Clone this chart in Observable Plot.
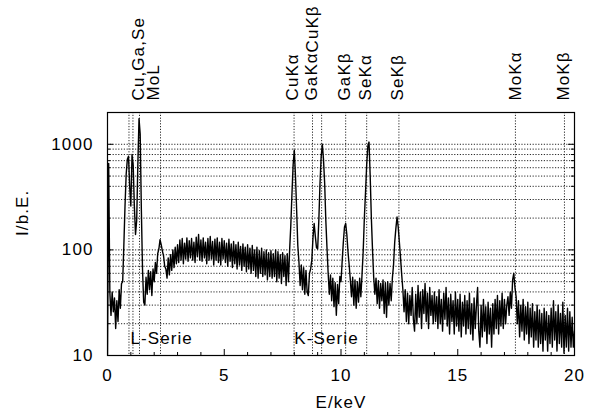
<!DOCTYPE html>
<html>
<head>
<meta charset="utf-8">
<script src="https://cdn.jsdelivr.net/npm/d3@7"></script>
<script src="https://cdn.jsdelivr.net/npm/@observablehq/plot@0.6"></script>
<style>
  html, body { margin: 0; padding: 0; background: #fff; }
  #chart { width: 596px; height: 414px; }
</style>
</head>
<body>
<div id="chart"></div>
<script>
// ---- data ----
const channelKeV = 0.05; // channel width
const counts = [
  10, 660, 40, 24, 40, 26, 35, 18, 33, 21, 42, 28, 48, 50, 110, 260, 520, 720, 770, 400,      // 0
  260, 800, 640, 260, 140, 190, 650, 1750, 1250, 240, 65, 32, 30, 55, 38, 64, 42, 62, 37, 66, // 1
  50, 76, 60, 92, 102, 125, 112, 98, 88, 70, 66, 54, 84, 58, 90, 64, 100, 68, 106, 74,       // 2
  112, 76, 124, 80, 128, 74, 116, 82, 130, 78, 122, 84, 128, 80, 118, 76, 132, 86, 140, 80,  // 3
  124, 78, 130, 84, 118, 74, 128, 80, 134, 82, 120, 72, 126, 80, 130, 76, 118, 72, 128, 82,  // 4
  122, 76, 116, 70, 126, 78, 114, 68, 120, 74, 112, 66, 118, 72, 108, 64, 114, 70, 106, 62,  // 5
  112, 66, 104, 60, 110, 64, 100, 56, 106, 54, 98, 60, 104, 56, 96, 58, 100, 52, 94, 56,     // 6
  98, 54, 92, 56, 100, 50, 96, 54, 90, 48, 94, 56, 88, 46, 92, 50, 100, 170, 340, 640,       // 7
  880, 500, 240, 110, 76, 46, 72, 42, 68, 38, 64, 40, 37, 60, 66, 80, 130, 178, 135, 105,    // 8
  102, 190, 420, 760, 1000, 720, 430, 190, 105, 60, 38, 58, 33, 54, 29, 49, 24, 47, 31, 56,  // 9
  50, 78, 118, 165, 178, 140, 96, 72, 52, 36, 55, 30, 52, 28, 50, 32, 54, 36, 58, 96,        // 10
  200, 350, 640, 960, 1050, 500, 200, 100, 55, 38, 54, 31, 51, 28, 48, 33, 52, 25, 49, 23,   // 11
  50, 30, 48, 33, 54, 72, 118, 160, 205, 165, 118, 84, 58, 42, 26, 42, 21, 39, 20, 37,       // 12
  24, 44, 22, 17, 38, 20, 46, 23, 40, 18, 42, 25, 48, 21, 39, 18, 44, 24, 37, 20,            // 13
  40, 21, 36, 18, 42, 20, 34, 17, 39, 22, 44, 19, 35, 16, 38, 21, 33, 16, 40, 19,            // 14
  34, 17, 38, 15, 32, 19, 37, 16, 33, 18, 39, 16, 31, 14, 35, 18, 30, 44, 17, 12,            // 15
  30, 15, 34, 17, 29, 13, 32, 16, 28, 12, 31, 16, 34, 18, 37, 16, 33, 19, 39, 18,            // 16
  34, 20, 30, 36, 24, 40, 28, 52, 60, 44, 36, 20, 33, 15, 30, 17, 34, 14, 29, 16,            // 17
  32, 13, 28, 15, 31, 12, 26, 14, 30, 12, 27, 13, 25, 11, 28, 14, 26, 11, 24, 13,            // 18
  28, 12, 33, 14, 26, 11, 30, 13, 25, 12, 32, 10.5, 24, 12, 28, 11, 26, 12, 23, 12,          // 19
  17
];

// emission line markers (keV)
const lineEnergies = [0.92, 1.09, 1.37, 2.27, 7.99, 8.78, 9.17, 10.2, 11.1, 12.48, 17.47, 19.57];
// top labels
const labelNames = ["Cu,Ga,Se", "MoL", "CuKα", "CuKβ", "GaKα", "GaKβ", "SeKα", "SeKβ", "MoKα", "MoKβ"];
const labelEnergies = [1.31, 1.97, 7.92, 8.8, 8.76, 10.15, 11.03, 12.44, 17.47, 19.55];
const labelRow = [0, 0, 0, 1, 0, 0, 0, 0, 0, 0];
// series annotations
const seriesNames = ["L-Serie", "K-Serie"];
const seriesEnergies = [0.98, 8.0];

// axes
const xMajor = [0, 5, 10, 15, 20];
const xMinor = [1, 2, 3, 4, 6, 7, 8, 9, 11, 12, 13, 14, 16, 17, 18, 19];
const yMajor = [10, 100, 1000];
const yMinor = [20, 30, 40, 50, 60, 70, 80, 90, 200, 300, 400, 500, 600, 700, 800, 900];
const yGrid = [20, 30, 40, 50, 60, 70, 80, 90, 100, 200, 300, 400, 500, 600, 700, 800, 900, 1000];
const xLabel = "E/keV";
const yLabel = "I/b.E.";

// ---- build ----
const spectrum = counts.map((c, i) => ({e: i * channelKeV, c}));
const labels = labelNames.map((name, i) => ({name, e: labelEnergies[i], row: labelRow[i]}));
const series = seriesNames.map((name, i) => ({name, e: seriesEnergies[i]}));

const W = 596, H = 414;
const mL = 107, mR = 22, mT = 112, mB = 59;
const fw = W - mL - mR, fh = H - mT - mB;
const font = "'Liberation Sans', Arial, Helvetica, sans-serif";
const fs = 17;
const ls = "1.1px";
const dotted = {stroke: "#111", strokeWidth: 0.9, strokeDasharray: "1.2,1.6"};

const chart = Plot.plot({
  width: W, height: H,
  marginLeft: mL, marginRight: mR, marginTop: mT, marginBottom: mB,
  style: {fontFamily: font, fontSize: fs + "px", letterSpacing: ls, background: "#fff", color: "#000"},
  x: {domain: [0, 20]},
  y: {type: "log", domain: [10, 2000]},
  marks: [
    Plot.ruleY(yGrid, dotted),
    Plot.ruleX(lineEnergies, dotted),
    Plot.line(spectrum, {x: "e", y: "c", stroke: "#000", strokeWidth: 1.4, clip: true}),
    Plot.frame({stroke: "#000", strokeWidth: 1.2}),
    // inward ticks
    Plot.tickY(yMajor, {y: d => d, insetRight: fw - 6, stroke: "#000"}),
    Plot.tickY(yMajor, {y: d => d, insetLeft: fw - 6, stroke: "#000"}),
    Plot.tickY(yMinor, {y: d => d, insetRight: fw - 3, stroke: "#000"}),
    Plot.tickY(yMinor, {y: d => d, insetLeft: fw - 3, stroke: "#000"}),
    Plot.tickX(xMajor, {x: d => d, insetTop: fh - 6, stroke: "#000"}),
    Plot.tickX(xMinor, {x: d => d, insetTop: fh - 3, stroke: "#000"}),
    Plot.axisX({ticks: xMajor, tickSize: 0, tickPadding: 13, tickFormat: d => String(d), label: null, fontSize: fs}),
    Plot.axisY({ticks: yMajor, tickSize: 0, tickPadding: 14, tickFormat: d => String(d), label: null, fontSize: fs}),
    Plot.text([xLabel], {frameAnchor: "bottom", dy: 52, lineAnchor: "bottom", fontSize: fs}),
    Plot.text([yLabel], {frameAnchor: "left", rotate: -90, dx: -85, dy: 2, fontSize: fs}),
    Plot.text(labels.filter(d => d.row === 0), {x: "e", text: "name", frameAnchor: "top", rotate: -90, textAnchor: "start", lineAnchor: "middle", dy: -12, fontSize: fs}),
    Plot.text(labels.filter(d => d.row === 1), {x: "e", text: "name", frameAnchor: "top", rotate: -90, textAnchor: "start", lineAnchor: "middle", dy: -60, fontSize: fs}),
    Plot.text(series, {x: "e", text: "name", frameAnchor: "bottom", textAnchor: "start", lineAnchor: "bottom", dy: -12, fontSize: fs})
  ]
});
document.getElementById("chart").appendChild(chart);
</script>
</body>
</html>
